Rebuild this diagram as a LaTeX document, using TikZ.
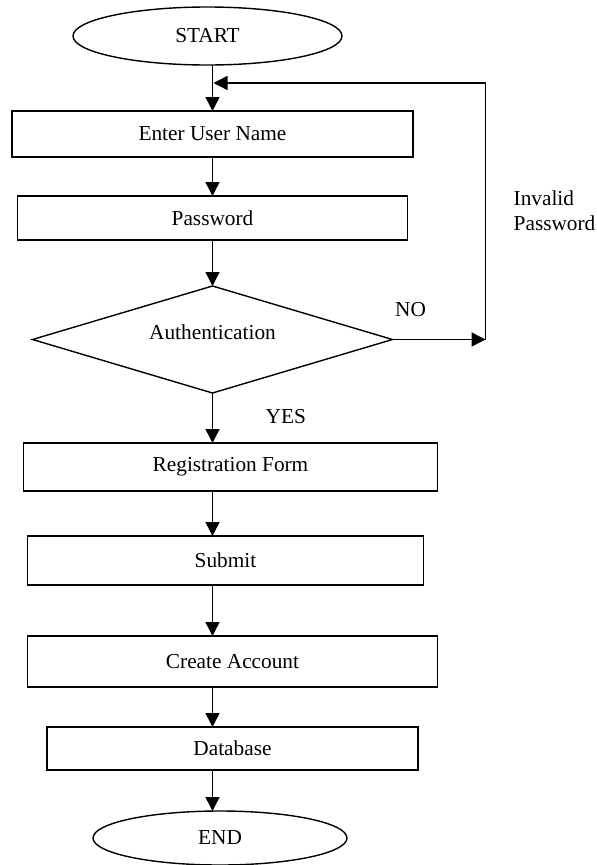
\documentclass[tikz,border=0pt]{standalone}
\usepackage{fontspec}
\setmainfont{Liberation Serif}
\usetikzlibrary{arrows.meta,positioning,shapes.geometric}

\begin{document}
\begin{tikzpicture}[
    x=1pt, y=-1pt,
    font=\fontsize{21.3}{25}\selectfont,
    term/.style={ellipse, draw, line width=1.4pt, inner sep=0pt, outer sep=0pt},
    proc/.style={rectangle, draw, line width=1.4pt, inner sep=0pt, outer sep=0pt},
    dec/.style={diamond, draw, line width=1.4pt, inner sep=0pt, outer sep=0pt, aspect=3.36, minimum width=360pt, minimum height=107pt},
    lbl/.style={inner sep=0pt},
    arr/.style={-{Triangle[length=14pt, width=14pt]}, line width=1.4pt}
]
    \useasboundingbox (0,0) rectangle (597,865);

    % Main flow
    \node[term, minimum width=269pt, minimum height=58pt] (start) at (207.5,36) {START};
    \node[proc, minimum width=401pt, minimum height=46pt, below=46pt of start, xshift=5pt] (user) {Enter User Name};
    \node[proc, minimum width=390pt, minimum height=44pt, below=39pt of user] (pass) {Password};
    \node[dec, text depth=14pt, below=46pt of pass] (auth) {Authentication};
    \node[proc, minimum width=414pt, minimum height=48pt, below=50pt of auth, xshift=18pt] (reg) {Registration Form};
    \node[proc, minimum width=396pt, minimum height=49pt, below=45pt of reg, xshift=-5pt] (submit) {Submit};
    \node[proc, minimum width=410pt, minimum height=51pt, below=51pt of submit, xshift=7pt] (create) {Create Account};
    \node[proc, minimum width=371pt, minimum height=43pt, below=40pt of create] (db) {Database};
    \node[term, minimum width=254pt, minimum height=54pt, below=41pt of db, xshift=-12.5pt] (end) {END};

    % Arrows down the column
    \draw[arr] (start.south -| auth) -- (user.north -| auth);
    \draw[arr] (user.south -| auth) -- (pass.north -| auth);
    \draw[arr] (pass.south -| auth) -- (auth.north);
    \draw[arr] (auth.south) -- (reg.north -| auth);
    \draw[arr] (reg.south -| auth) -- (submit.north -| auth);
    \draw[arr] (submit.south -| auth) -- (create.north -| auth);
    \draw[arr] (create.south -| auth) -- (db.north -| auth);
    \draw[arr] (db.south -| auth) -- (end.north -| auth);

    % Loop back on NO
    \coordinate[right=93pt of auth.east] (noturn);
    \coordinate (backin) at (213.5,83);
    \draw[arr] (auth.east) -- (noturn);
    \draw[arr] (noturn) |- (backin);

    % Labels
    \node[lbl, above right=23pt and 2.5pt of auth.east] (no) {NO};
    \node[lbl, below right=16pt and 53pt of auth.south] (yes) {YES};
    \node[lbl, align=left, above right=109pt and 28pt of noturn] (inv) {Invalid\\Password};
\end{tikzpicture}
\end{document}
